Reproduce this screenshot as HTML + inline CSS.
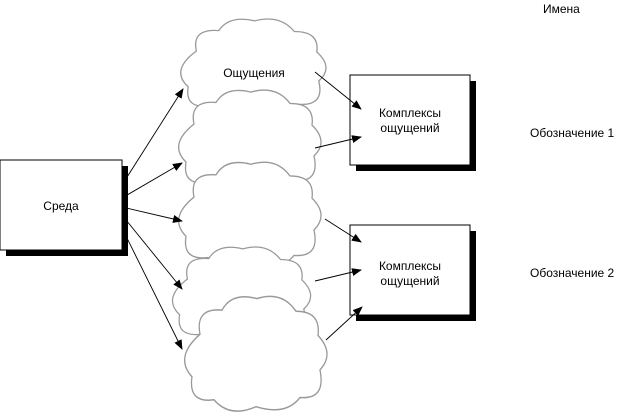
<!DOCTYPE html><html><head><style>body{margin:0;background:#fff}svg{display:block}text{font-family:"Liberation Sans",sans-serif;font-size:12px;fill:#000}</style></head><body>
<svg width="624" height="413" viewBox="0 0 624 413">
<defs>
<path id="c" d="M20,35 Q15,12 42,14 Q52,-2 77,4 Q102,-3 116,15 Q141,15 138,36 Q155,52 140,66 Q146,92 120,90 Q106,106 76,98 Q50,108 34,92 Q8,95 12,72 Q-6,55 20,35 Z" fill="#fff" stroke="#999" stroke-width="1.3"/>
<marker id="a" markerWidth="10" markerHeight="8" refX="9" refY="4" orient="auto" markerUnits="userSpaceOnUse"><path d="M0,0 L10,4 L0,8 Z" fill="#000"/></marker>
</defs>
<rect x="6" y="166" width="122" height="90" fill="#000"/>
<rect x="0" y="160" width="122" height="90" fill="#fff" stroke="#000"/>
<text x="61" y="210" text-anchor="middle">Среда</text>
<use href="#c" transform="translate(176,17) scale(1.02,0.97)"/>
<use href="#c" transform="translate(174,88) scale(1.0,1.03)"/>
<use href="#c" transform="translate(174,160) scale(1.0,1.06)"/>
<use href="#c" transform="translate(168,245) scale(0.97,0.97)"/>
<use href="#c" transform="translate(180,294) scale(1.0,1.15)"/>
<text x="254" y="77" text-anchor="middle">Ощущения</text>
<rect x="356" y="81" width="120" height="90" fill="#000"/>
<rect x="350" y="75" width="120" height="90" fill="#fff" stroke="#000"/>
<text x="410" y="117" text-anchor="middle">Комплексы</text>
<text x="410" y="132" text-anchor="middle">ощущений</text>
<rect x="356" y="231" width="120" height="90" fill="#000"/>
<rect x="350" y="225" width="120" height="90" fill="#fff" stroke="#000"/>
<text x="410" y="270" text-anchor="middle">Комплексы</text>
<text x="410" y="285" text-anchor="middle">ощущений</text>
<g stroke="#000" stroke-width="0.9" fill="none" marker-end="url(#a)">
<line x1="122" y1="185" x2="183" y2="89"/>
<line x1="122" y1="198" x2="182" y2="163"/>
<line x1="122" y1="207" x2="182" y2="221"/>
<line x1="122" y1="215" x2="182" y2="289"/>
<line x1="122" y1="228" x2="182" y2="349"/>
<line x1="315" y1="72" x2="361" y2="109"/>
<line x1="315" y1="148" x2="361" y2="137"/>
<line x1="325" y1="219" x2="361" y2="242"/>
<line x1="315" y1="281" x2="361" y2="270"/>
<line x1="326" y1="340" x2="362" y2="307"/>
</g>
<text x="543" y="13">Имена</text>
<text x="530" y="137">Обозначение 1</text>
<text x="530" y="277">Обозначение 2</text>
</svg></body></html>
